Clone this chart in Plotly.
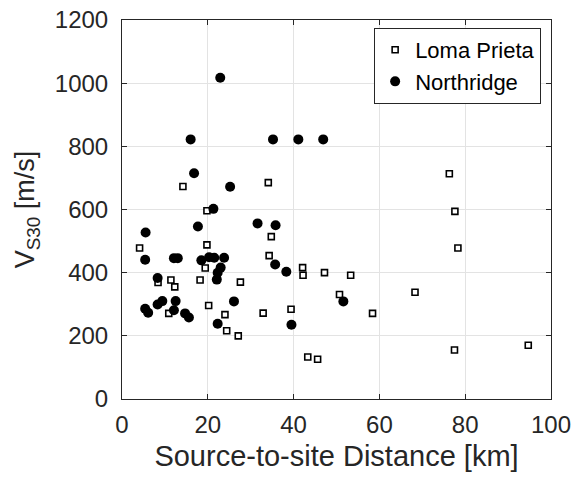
import plotly.graph_objects as go

# Loma Prieta (squares)
lp_dist = [4.1, 8.4, 10.9, 11.4, 12.3, 14.2, 18.2, 19.4, 19.8, 19.8, 20.2, 24.0, 24.4, 27.1,
           27.6, 32.9, 34.1, 34.8, 34.3, 39.4, 42.1, 42.2, 43.3, 45.6, 47.2, 50.7, 53.3,
           58.4, 68.3, 76.3, 77.6, 78.3, 77.5, 94.7]
lp_vs30 = [478, 369, 271, 377, 355, 673, 377, 415, 488, 596, 296, 267, 216, 200,
           370, 272, 685, 514, 454, 284, 416, 392, 133, 126, 400, 331, 392,
           271, 338, 713, 594, 478, 155, 170]

# Northridge (circles)
nr_dist = [5.4, 6.1, 5.5, 5.4, 8.3, 8.3, 9.4, 12.1, 13.0, 12.5, 12.1, 14.7, 15.6, 16.0,
           16.8, 17.7, 18.5, 20.3, 21.5, 21.3, 22.9, 23.0, 22.3, 22.1, 22.3, 23.8, 25.2,
           26.1, 31.6, 35.2, 35.8, 35.7, 38.3, 39.5, 41.1, 46.9, 51.6]
nr_vs30 = [286, 273, 527, 441, 383, 299, 310, 446, 446, 310, 281, 271, 258, 822,
           715, 546, 439, 449, 447, 602, 1017, 416, 400, 378, 238, 447, 672,
           309, 556, 822, 550, 426, 403, 235, 822, 822, 309]

x_ticks = [0, 20, 40, 60, 80, 100]
y_ticks = [0, 200, 400, 600, 800, 1000, 1200]

FONT = "Liberation Sans, Arial, sans-serif"
INK = "#262626"

fig = go.Figure()
fig.add_trace(go.Scatter(
    x=lp_dist, y=lp_vs30, mode="markers", name="Loma Prieta",
    marker=dict(symbol="square", size=6, color="white",
                line=dict(color="black", width=1.6)),
))
fig.add_trace(go.Scatter(
    x=nr_dist, y=nr_vs30, mode="markers", name="Northridge",
    marker=dict(symbol="circle", size=10, color="black",
                line=dict(color="black", width=0)),
))

axis_common = dict(
    showline=True, linecolor=INK, linewidth=1, mirror="allticks",
    ticks="inside", ticklen=5, tickcolor=INK, tickwidth=1,
    showgrid=True, gridcolor="#e3e3e3", gridwidth=1,
    zeroline=False,
    tickfont=dict(family=FONT, size=24, color=INK),
)

fig.update_layout(
    width=573, height=477,
    margin=dict(l=122, r=22, t=20, b=78, autoexpand=False),
    paper_bgcolor="white", plot_bgcolor="white",
    font=dict(family=FONT, color=INK),
    xaxis=dict(range=[0, 100], tickvals=x_ticks, ticklabelstandoff=4,
               title=dict(text="Source-to-site Distance [km]",
                          font=dict(family=FONT, size=29, color=INK), standoff=8),
               **axis_common),
    yaxis=dict(range=[0, 1200], tickvals=y_ticks, ticklabelstandoff=8,
               title=dict(text="V<sub>S30</sub> [m/s]",
                          font=dict(family=FONT, size=27, color=INK), standoff=12),
               **axis_common),
    legend=dict(x=0.977, y=0.979, xanchor="right", yanchor="top",
                bgcolor="white", bordercolor=INK, borderwidth=1,
                font=dict(family=FONT, size=22, color="black"),
                tracegroupgap=0, itemwidth=30),
    showlegend=True,
)

fig.write_html(
    "out.html",
    config={"displayModeBar": False},
    post_script="document.body.style.margin='0';document.body.style.overflow='hidden';",
)
